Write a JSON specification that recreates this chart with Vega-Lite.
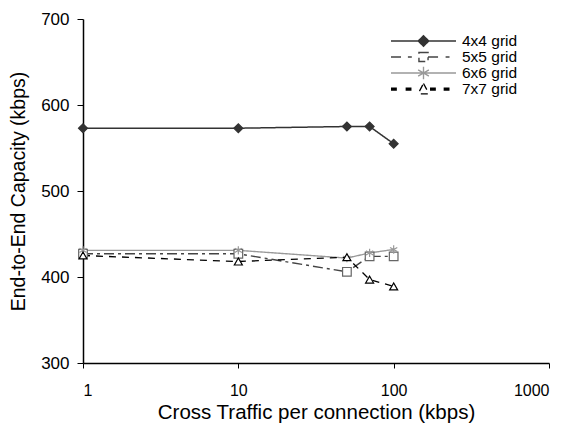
{
  "$schema": "https://vega.github.io/schema/vega-lite/v6.json",
  "width": 466,
  "height": 344,
  "autosize": {"type": "none"},
  "padding": {"left": 83, "top": 19, "right": 22, "bottom": 60},
  "background": "white",
  "config": {
    "view": {"stroke": null},
    "font": "Liberation Sans",
    "axis": {
      "grid": false,
      "domainColor": "#000",
      "domainWidth": 1.5,
      "tickColor": "#000",
      "tickWidth": 1,
      "labelColor": "#000",
      "titleColor": "#000",
      "labelFont": "Liberation Sans",
      "titleFont": "Liberation Sans",
      "labelFontSize": 16,
      "titleFontSize": 19.5,
      "titleFontWeight": "normal"
    }
  },
  "data": {
    "values": [
      {"x": 1, "y": 573, "g": "4x4 grid", "s": "4x4"},
      {"x": 10, "y": 573, "g": "4x4 grid", "s": "4x4"},
      {"x": 50, "y": 575, "g": "4x4 grid", "s": "4x4"},
      {"x": 70, "y": 575, "g": "4x4 grid", "s": "4x4"},
      {"x": 100, "y": 555, "g": "4x4 grid", "s": "4x4"},
      {"x": 1, "y": 427, "g": "5x5 grid", "s": "5x5"},
      {"x": 10, "y": 427, "g": "5x5 grid", "s": "5x5"},
      {"x": 50, "y": 406, "g": "5x5 grid", "s": "5x5"},
      {"x": 70, "y": 424, "g": "5x5 grid", "s": "5x5"},
      {"x": 100, "y": 424, "g": "5x5 grid", "s": "5x5"},
      {"x": 1, "y": 431, "g": "6x6 grid", "s": "6x6"},
      {"x": 10, "y": 431, "g": "6x6 grid", "s": "6x6"},
      {"x": 50, "y": 422, "g": "6x6 grid", "s": "6x6"},
      {"x": 70, "y": 428, "g": "6x6 grid", "s": "6x6"},
      {"x": 100, "y": 432, "g": "6x6 grid", "s": "6x6"},
      {"x": 1, "y": 425, "g": "7x7 grid", "s": "7x7"},
      {"x": 10, "y": 418, "g": "7x7 grid", "s": "7x7"},
      {"x": 50, "y": 423, "g": "7x7 grid", "s": "7x7"},
      {"x": 70, "y": 397, "g": "7x7 grid", "s": "7x7"},
      {"x": 100, "y": 389, "g": "7x7 grid", "s": "7x7"}
    ]
  },
  "encoding": {
    "x": {
      "field": "x",
      "type": "quantitative",
      "scale": {"type": "log", "domain": [1, 1000]},
      "axis": {
        "title": "Cross Traffic per connection (kbps)",
        "titleFontSize": 20.5,
        "values": [1, 10, 100, 1000],
        "format": "d",
        "tickSize": 5,
        "labelPadding": 14,
        "titlePadding": 4
      }
    },
    "y": {
      "field": "y",
      "type": "quantitative",
      "scale": {"domain": [300, 700], "zero": false},
      "axis": {
        "title": "End-to-End Capacity (kbps)",
        "labelFontSize": 17,
        "values": [300, 400, 500, 600, 700],
        "tickSize": 6,
        "labelPadding": 8,
        "titlePadding": 12
      }
    }
  },
  "layer": [
    {
      "mark": {"type": "line"},
      "encoding": {
        "color": {
          "field": "g",
          "type": "nominal",
          "scale": {"domain": ["4x4 grid", "5x5 grid", "6x6 grid", "7x7 grid"], "range": ["#333333", "#444444", "#999999", "#000000"]},
          "legend": {
            "title": null,
            "orient": "none",
            "legendX": 307,
            "legendY": 15,
            "padding": 0,
            "rowPadding": 0,
            "clipHeight": 14,
            "symbolSize": 4225,
            "symbolStrokeWidth": 1.5,
            "labelOffset": 5,
            "labelFont": "Liberation Sans",
            "labelFontSize": 15.5,
            "labelColor": "#000",
            "encode": {
              "symbols": {
                "update": {
                  "shape": {"signal": "['M-1,0L1,0M0,-0.16L0.16,0L0,0.16L-0.16,0Z','M-1,0L-0.62,0M-0.48,0L-0.36,0M-0.14,-0.14L0.14,-0.14L0.14,0.14L-0.14,0.14ZM0.14,0L0.5,0M0.68,0L0.8,0','M-1,0L1,0M0,-0.19L0,0.19M-0.165,-0.095L0.165,0.095M-0.165,0.095L0.165,-0.095','M-1,-0.03L-0.82,-0.03M-1,0L-0.82,0M-1,0.03L-0.82,0.03M-0.55,-0.03L-0.37,-0.03M-0.55,0L-0.37,0M-0.55,0.03L-0.37,0.03M0,-0.17L0.17,0.15L-0.17,0.15ZM0.2,-0.03L0.38,-0.03M0.2,0L0.38,0M0.2,0.03L0.38,0.03M0.62,-0.03L0.8,-0.03M0.62,0L0.8,0M0.62,0.03L0.8,0.03'][datum.index]"},
                  "fill": {"signal": "['#333333','white','transparent','white'][datum.index]"},
                  "stroke": {"signal": "['#333333','#555555','#999999','#000000'][datum.index]"},
                  "strokeWidth": {"value": 1.5},
                  "strokeDash": {"value": [1, 0]},
                  "size": {"value": 4225},
                  "opacity": {"value": 1}
                }
              }
            }
          }
        },
        "strokeDash": {
          "field": "g",
          "type": "nominal",
          "scale": {"domain": ["4x4 grid", "5x5 grid", "6x6 grid", "7x7 grid"], "range": [[1, 0], [10, 4, 3, 4], [1, 0], [7, 6]]},
          "legend": null
        },
        "strokeWidth": {
          "field": "g",
          "type": "nominal",
          "scale": {"domain": ["4x4 grid", "5x5 grid", "6x6 grid", "7x7 grid"], "range": [1.5, 1.3, 1.5, 3]},
          "legend": null
        }
      }
    },
    {
      "mark": {"type": "point", "filled": true, "strokeWidth": 1.2, "opacity": 1},
      "encoding": {
        "shape": {
          "field": "s",
          "type": "nominal",
          "scale": {"domain": ["4x4", "5x5", "6x6", "7x7"], "range": ["diamond", "square", "M0,-1L0,1M-0.87,-0.5L0.87,0.5M-0.87,0.5L0.87,-0.5", "triangle-up"]},
          "legend": null
        },
        "size": {
          "field": "s",
          "type": "nominal",
          "scale": {"domain": ["4x4", "5x5", "6x6", "7x7"], "range": [80, 64, 180, 90]},
          "legend": null
        },
        "fill": {
          "field": "s",
          "type": "nominal",
          "scale": {"domain": ["4x4", "5x5", "6x6", "7x7"], "range": ["#333333", "#ffffff", "#999999", "#ffffff"]},
          "legend": null
        },
        "stroke": {
          "field": "s",
          "type": "nominal",
          "scale": {"domain": ["4x4", "5x5", "6x6", "7x7"], "range": ["#333333", "#666666", "#999999", "#000000"]},
          "legend": null
        }
      }
    }
  ]
}
